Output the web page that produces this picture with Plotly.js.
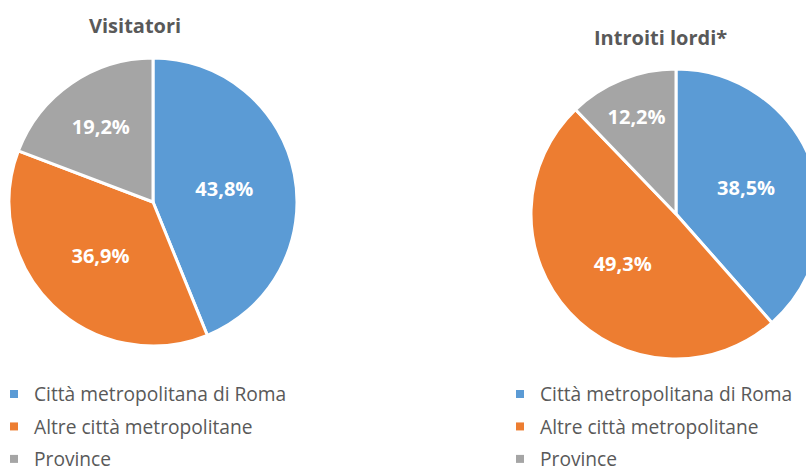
<!DOCTYPE html>
<html><head><meta charset="utf-8">
<script src="https://cdn.plot.ly/plotly-3.0.1.min.js"></script>
<style>html,body{margin:0;padding:0;overflow:hidden;background:#fff;width:806px;height:467px}#c{position:relative;left:-8px;width:840px;height:520px}</style>
</head><body><div id="c"></div>
<script>
const categories = ["Città metropolitana di Roma", "Altre città metropolitane", "Province"];
const visitatori = [43.8, 36.9, 19.2];
const introiti = [38.5, 49.3, 12.2];
const titles = ["Visitatori", "Introiti lordi*"];
const colors = ["#5B9BD5", "#ED7D31", "#A5A5A5"];

const W = 840, H = 520, OX = 8;
const grey = "#595959";
const fam = "'Open Sans', 'Noto Sans', sans-serif";

function pie(values, dom, name){
  return {
    type: "pie", name: name, values: values, labels: categories,
    sort: false, direction: "clockwise", rotation: 0,
    marker: {colors: colors, line: {color: "#ffffff", width: 3}},
    texttemplate: "%{value:.1f}%", textposition: "inside",
    insidetextorientation: "horizontal",
    textfont: {color: "#ffffff", size: 20, family: fam, weight: "bold"},
    hoverinfo: "label+value", showlegend: false,
    domain: dom
  };
}
const px = v => (v + OX) / W;
const py = v => 1 - v / H;
const traces = [
  pie(visitatori, {x: [px(9), px(297)], y: [py(346), py(58)]}, titles[0]),
  pie(introiti, {x: [px(531), px(821)], y: [py(359), py(69)]}, titles[1])
];
["legend", "legend2"].forEach((lg, li) => {
  categories.forEach((c, i) => {
    traces.push({type: "scatter", mode: "markers", x: [null], y: [null], name: c,
      legend: lg, legendgroup: lg + i, showlegend: true,
      marker: {symbol: "square", size: 8, color: colors[i]}, hoverinfo: "skip"});
  });
});

const legendBase = {
  font: {family: fam, size: 19.2, color: grey}, bgcolor: "rgba(0,0,0,0)",
  traceorder: "grouped", tracegroupgap: 4.5, xanchor: "left", yanchor: "top", itemclick: false
};
const layout = {
  width: W, height: H, margin: {l: 0, r: 0, t: 0, b: 0},
  paper_bgcolor: "#fff", plot_bgcolor: "#fff", separators: ",.",
  xaxis: {visible: false}, yaxis: {visible: false},
  legend: Object.assign({}, legendBase, {x: px(-6), y: py(375)}),
  legend2: Object.assign({}, legendBase, {x: px(500), y: py(375)}),
  annotations: [
    {text: titles[0], x: px(135), y: py(25), xref: "paper", yref: "paper", showarrow: false,
     xanchor: "center", yanchor: "middle",
     font: {family: fam, size: 20, color: grey, weight: "bold"}},
    {text: titles[1], x: px(660), y: py(38), xref: "paper", yref: "paper", showarrow: false,
     xanchor: "center", yanchor: "middle",
     font: {family: fam, size: 20, color: grey, weight: "bold"}}
  ]
};
Plotly.newPlot("c", traces, layout, {displayModeBar: false, staticPlot: true});
</script></body></html>
